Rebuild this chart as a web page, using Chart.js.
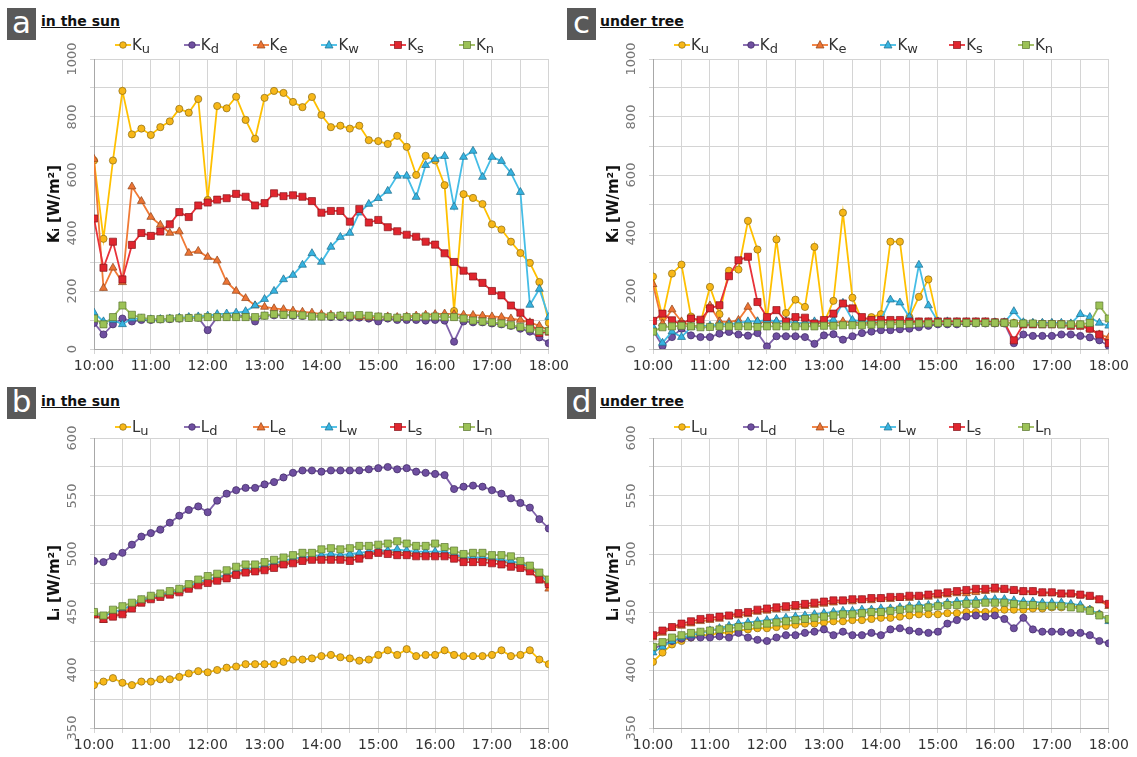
<!DOCTYPE html>
<html>
<head>
<meta charset="utf-8">
<script src="https://cdn.jsdelivr.net/npm/chart.js@4.4.0/dist/chart.umd.min.js"></script>
<style>
body{margin:0;width:1137px;height:757px;background:#fff;position:relative;overflow:hidden;font-family:"DejaVu Sans",sans-serif}
canvas{position:absolute}
.tag{position:absolute;width:29px;height:32px;background:#595959;color:#fff;font:31px "DejaVu Sans";line-height:28px;text-align:center}
.title{position:absolute;font:bold 14px "DejaVu Sans";text-decoration:underline;color:#111}
.item{position:absolute;display:flex;align-items:center;font:15px "DejaVu Sans";color:#333;height:16px}
.item sub{font-size:13px;position:relative;top:3px;vertical-align:baseline}
</style>
</head>
<body>
<div class="tag" style="left:7px;top:8px">a</div><div class="title" style="left:41px;top:13px">in the sun</div>
<div class="tag" style="left:567px;top:8px">c</div><div class="title" style="left:600px;top:13px">under tree</div>
<div class="tag" style="left:7px;top:387px">b</div><div class="title" style="left:41px;top:393px">in the sun</div>
<div class="tag" style="left:567px;top:387px">d</div><div class="title" style="left:600px;top:393px">under tree</div>
<canvas id="ca" width="573" height="349" style="left:0;top:30px"></canvas>
<canvas id="cc" width="574" height="349" style="left:559px;top:30px"></canvas>
<canvas id="cb" width="573" height="349" style="left:0;top:409px"></canvas>
<canvas id="cd" width="574" height="349" style="left:559px;top:409px"></canvas>
<div id="legends"></div>
<script>
// time stamps (every 10 min)
const times = ['10:00','10:10','10:20','10:30','10:40','10:50','11:00','11:10','11:20','11:30','11:40','11:50',
  '12:00','12:10','12:20','12:30','12:40','12:50','13:00','13:10','13:20','13:30','13:40','13:50',
  '14:00','14:10','14:20','14:30','14:40','14:50','15:00','15:10','15:20','15:30','15:40','15:50',
  '16:00','16:10','16:20','16:30','16:40','16:50','17:00','17:10','17:20','17:30','17:40','17:50','18:00'];
const directions = ['u','d','e','w','s','n'];

// a: shortwave, in the sun
const sunKu = [650,380,650,890,740,760,738,765,785,828,815,862,514,838,830,870,790,725,866,890,883,852,834,869,807,765,770,760,770,720,717,707,735,697,600,666,650,565,131,534,521,500,430,412,370,331,297,231,90];
const sunKd = [90,50,85,105,95,100,100,102,103,105,108,108,65,110,112,112,114,95,115,116,117,115,114,113,112,110,110,108,108,105,95,105,100,100,100,98,100,98,25,95,92,92,88,85,80,70,60,40,20];
const sunKe = [655,210,280,230,560,510,455,428,400,405,331,338,317,305,231,200,175,150,145,140,137,132,128,125,120,118,115,112,110,108,110,112,110,112,115,118,120,122,120,118,117,115,112,110,105,100,92,80,65];
const sunKw = [125,95,100,85,105,105,102,103,105,108,110,112,115,120,122,125,130,150,172,200,240,255,290,330,300,352,386,400,470,500,520,545,597,597,524,634,655,665,490,662,683,593,662,648,607,541,152,207,110];
const sunKs = [450,280,370,240,359,400,390,405,430,472,455,495,505,515,520,535,525,495,503,537,527,530,525,510,470,476,476,439,483,436,445,420,406,394,387,370,360,330,300,270,250,228,200,185,150,125,90,55,60];
const sunKn = [105,85,110,150,118,108,103,103,105,106,107,108,110,110,110,110,110,110,115,120,118,118,116,112,112,113,115,115,117,115,112,110,108,110,110,112,112,110,110,105,98,95,92,88,82,76,70,62,62];

// b: longwave, in the sun
const sunLu = [387,390,393,389,387,390,390,392,392,394,397,399,398,400,402,403,405,405,405,405,407,409,409,410,412,413,411,410,408,409,413,417,413,418,412,413,413,417,413,412,412,412,413,417,412,413,417,409,405];
const sunLd = [494,493,498,501,508,515,518,521,527,533,538,541,536,546,552,555,557,557,560,562,566,570,572,572,571,572,572,572,572,573,574,575,573,574,571,570,569,568,556,558,559,558,555,552,548,544,540,530,522];
const sunLe = [447,443,447,449,455,459,462,464,466,468,471,475,476,478,480,483,485,486,488,490,492,494,495,496,497,497,497,497,498,500,502,502,501,501,500,500,500,500,498,496,496,496,495,494,492,490,487,482,470];
const sunLw = [449,446,450,452,456,460,463,465,467,469,472,476,478,480,482,485,487,488,490,492,494,496,497,498,499,500,499,500,501,502,503,503,504,503,502,502,502,502,500,497,497,497,496,495,494,492,489,483,475];
const sunLs = [448,444,446,448,453,458,461,463,465,467,470,473,475,477,479,482,484,485,486,488,491,492,494,495,495,495,495,494,496,499,501,500,499,499,498,498,498,498,496,493,493,493,492,491,489,488,485,478,474];
const sunLn = [450,447,452,455,458,461,464,466,468,470,474,478,481,483,486,489,491,491,493,495,497,499,501,501,504,505,504,505,507,507,508,509,511,509,507,507,509,506,503,500,501,501,499,499,498,494,490,484,478];

// c: shortwave, under tree
const treeKu = [250,110,260,291,112,90,214,120,270,274,442,343,100,378,124,170,145,352,90,166,470,177,100,110,120,370,370,110,180,240,95,90,92,90,92,92,93,92,90,90,88,88,88,87,85,85,70,50,20];
const treeKd = [65,10,41,70,47,41,41,53,59,50,46,55,9,44,44,44,41,18,47,51,32,44,55,60,65,65,68,70,75,80,85,85,85,88,88,88,88,88,20,50,45,45,45,50,50,45,40,30,10];
const treeKe = [223,88,136,95,80,80,150,95,93,100,145,95,90,95,95,90,90,90,88,90,95,92,90,90,90,92,92,92,92,92,92,92,92,92,92,92,90,90,88,88,88,88,88,85,85,80,70,50,40];
const treeKw = [76,21,60,41,75,80,80,85,85,90,95,95,100,95,95,90,90,95,95,100,159,100,95,95,100,170,160,110,290,150,95,95,92,92,92,92,92,92,130,92,90,90,90,90,88,120,110,90,80];
const treeKs = [97,122,99,85,105,101,140,151,251,306,318,162,110,134,95,110,108,88,100,122,157,140,110,100,100,100,100,95,95,95,95,95,95,95,95,95,92,92,30,85,85,85,85,85,80,80,70,50,20];
const treeKn = [60,75,78,80,78,75,76,78,78,78,78,76,78,78,78,78,78,78,80,80,82,82,82,84,85,85,86,86,88,88,90,90,90,90,90,90,90,90,88,88,88,86,86,85,85,85,90,150,105];

// d: longwave, under tree
const treeLu = [407,415,422,425,428,430,430,432,432,434,435,436,436,437,438,439,440,440,441,442,442,443,443,444,445,445,446,447,448,448,448,449,449,450,450,450,451,452,452,452,453,453,454,454,455,454,452,448,443];
const treeLd = [418,422,425,427,428,428,428,429,428,432,428,426,425,428,430,430,432,433,435,430,433,430,430,432,430,435,436,434,433,432,433,440,443,446,447,446,447,444,436,445,435,433,433,433,432,432,430,425,423];
const treeLe = [428,432,436,438,440,442,443,444,446,447,448,450,451,452,453,454,455,456,457,458,459,459,460,460,461,461,462,462,463,463,464,465,466,466,467,468,469,469,468,467,467,466,466,465,465,464,463,460,455];
const treeLw = [415,420,425,428,430,432,434,436,438,440,441,442,443,444,445,446,447,448,449,450,451,451,452,452,453,453,454,455,456,456,457,458,459,460,460,461,461,461,460,459,459,458,458,458,457,456,452,448,442];
const treeLs = [430,434,437,440,442,444,445,446,447,449,450,452,453,454,455,456,457,458,459,460,460,461,461,462,462,463,463,464,464,465,466,467,468,469,470,470,471,470,469,468,468,467,467,466,466,465,464,461,457];
const treeLn = [420,424,428,430,432,433,434,435,436,437,438,439,440,441,442,443,444,445,446,447,448,448,449,450,450,451,452,453,453,454,455,456,456,457,457,458,458,458,457,456,456,455,455,455,454,453,451,447,444];

const hours = times.map(t => Number(t.slice(0, 2)) + Number(t.slice(3)) / 60);

const look = {
  u: {line: '#FFC000', fill: '#F7B718', edge: '#8A6A14', shape: 'circle', r: 3.6},
  d: {line: '#7F61AA', fill: '#6F4FA0', edge: '#3E2A62', shape: 'circle', r: 3.6},
  e: {line: '#F07A36', fill: '#EC7434', edge: '#8E4218', shape: 'triangle', r: 4.6},
  w: {line: '#45BDE6', fill: '#36B3E0', edge: '#1E6C8A', shape: 'triangle', r: 4.6},
  s: {line: '#E8323A', fill: '#E0252E', edge: '#86151A', shape: 'rect', r: 5},
  n: {line: '#9BBB59', fill: '#9CC256', edge: '#5A7630', shape: 'rect', r: 5}
};

// rotated y tick labels, like the original
const sideTicks = {
  id: 'sideTicks',
  afterDraw(chart) {
    const s = chart.scales.y, ctx = chart.ctx;
    ctx.save();
    ctx.font = '13px "DejaVu Sans"';
    ctx.fillStyle = '#777';
    ctx.textAlign = 'center';
    ctx.textBaseline = 'middle';
    s.ticks.forEach(t => {
      if (!t.label) return;
      ctx.save();
      ctx.translate(s.right - 21, s.getPixelForValue(t.value));
      ctx.rotate(-Math.PI / 2);
      ctx.fillText(t.label, 0, 0);
      ctx.restore();
    });
    ctx.restore();
  }
};

function makePanel(id, letter, series, yMin, yMax, step, labelEvery) {
  const datasets = series.map((vals, i) => {
    const st = look[directions[i]];
    return {
      label: letter + directions[i],
      data: vals.map((v, j) => ({x: hours[j], y: v})),
      borderColor: st.line,
      borderWidth: 1.8,
      pointStyle: st.shape,
      pointRadius: st.r,
      pointBackgroundColor: st.fill,
      pointBorderColor: st.edge,
      pointBorderWidth: 0.7,
      tension: 0,
      order: 6 - i
    };
  });
  new Chart(document.getElementById(id), {
    type: 'line',
    data: {datasets},
    options: {
      responsive: false,
      animation: false,
      devicePixelRatio: 1,
      layout: {padding: {top: 29, right: 20, left: 0, bottom: 0}},
      plugins: {legend: {display: false}, tooltip: {enabled: false}},
      scales: {
        x: {
          type: 'linear', min: 10, max: 18,
          grid: {color: '#D4D4D4', tickLength: 5},
          border: {color: '#A8A8A8'},
          ticks: {
            stepSize: 0.5, autoSkip: false, maxRotation: 0, padding: 4,
            color: '#333', font: {family: 'DejaVu Sans', size: 14},
            callback: v => Number.isInteger(v) ? v + ':00' : ''
          },
          afterFit: s => { s.height = 30; }
        },
        y: {
          min: yMin, max: yMax,
          grid: {color: '#D4D4D4', tickLength: 4},
          border: {color: '#A8A8A8'},
          ticks: {
            stepSize: step, display: false,
            callback: v => (v % labelEvery === 0 ? String(v) : '')
          },
          title: {
            display: true, text: letter + '\u1D62 [W/m\u00B2]',
            color: '#111', font: {family: 'DejaVu Sans', size: 15, weight: 'bold'},
            padding: {top: 46, bottom: 0}
          },
          afterFit: s => { s.width = 94; }
        }
      }
    },
    plugins: [sideTicks]
  });
}

makePanel('ca', 'K', [sunKu, sunKd, sunKe, sunKw, sunKs, sunKn], 0, 1000, 100, 200);
makePanel('cc', 'K', [treeKu, treeKd, treeKe, treeKw, treeKs, treeKn], 0, 1000, 100, 200);
makePanel('cb', 'L', [sunLu, sunLd, sunLe, sunLw, sunLs, sunLn], 350, 600, 25, 50);
makePanel('cd', 'L', [treeLu, treeLd, treeLe, treeLw, treeLs, treeLn], 350, 600, 25, 50);

// html legends (line + marker, letter with lowered suffix)
function markerSvg(d) {
  const st = look[d];
  let m;
  if (st.shape === 'circle') m = `<circle cx="9" cy="8" r="3.3" fill="${st.fill}" stroke="${st.edge}" stroke-width="0.7"/>`;
  else if (st.shape === 'triangle') m = `<polygon points="9,3.5 13,11 5,11" fill="${st.fill}" stroke="${st.edge}" stroke-width="0.7"/>`;
  else m = `<rect x="5.5" y="4.5" width="7" height="7" fill="${st.fill}" stroke="${st.edge}" stroke-width="0.7"/>`;
  return `<svg width="18" height="16"><line x1="1" y1="8" x2="17" y2="8" stroke="${st.line}" stroke-width="1.8"/>${m}</svg>`;
}
const holder = document.getElementById('legends');
[['K', 0, 37], ['K', 559, 37], ['L', 0, 419], ['L', 559, 419]].forEach(([letter, dx, top]) => {
  directions.forEach((d, i) => {
    const el = document.createElement('div');
    el.className = 'item';
    el.style.left = (114 + dx + i * 68.8) + 'px';
    el.style.top = top + 'px';
    el.innerHTML = markerSvg(d) + `<span>${letter}<sub>${d}</sub></span>`;
    holder.appendChild(el);
  });
});
</script>
</body>
</html>
